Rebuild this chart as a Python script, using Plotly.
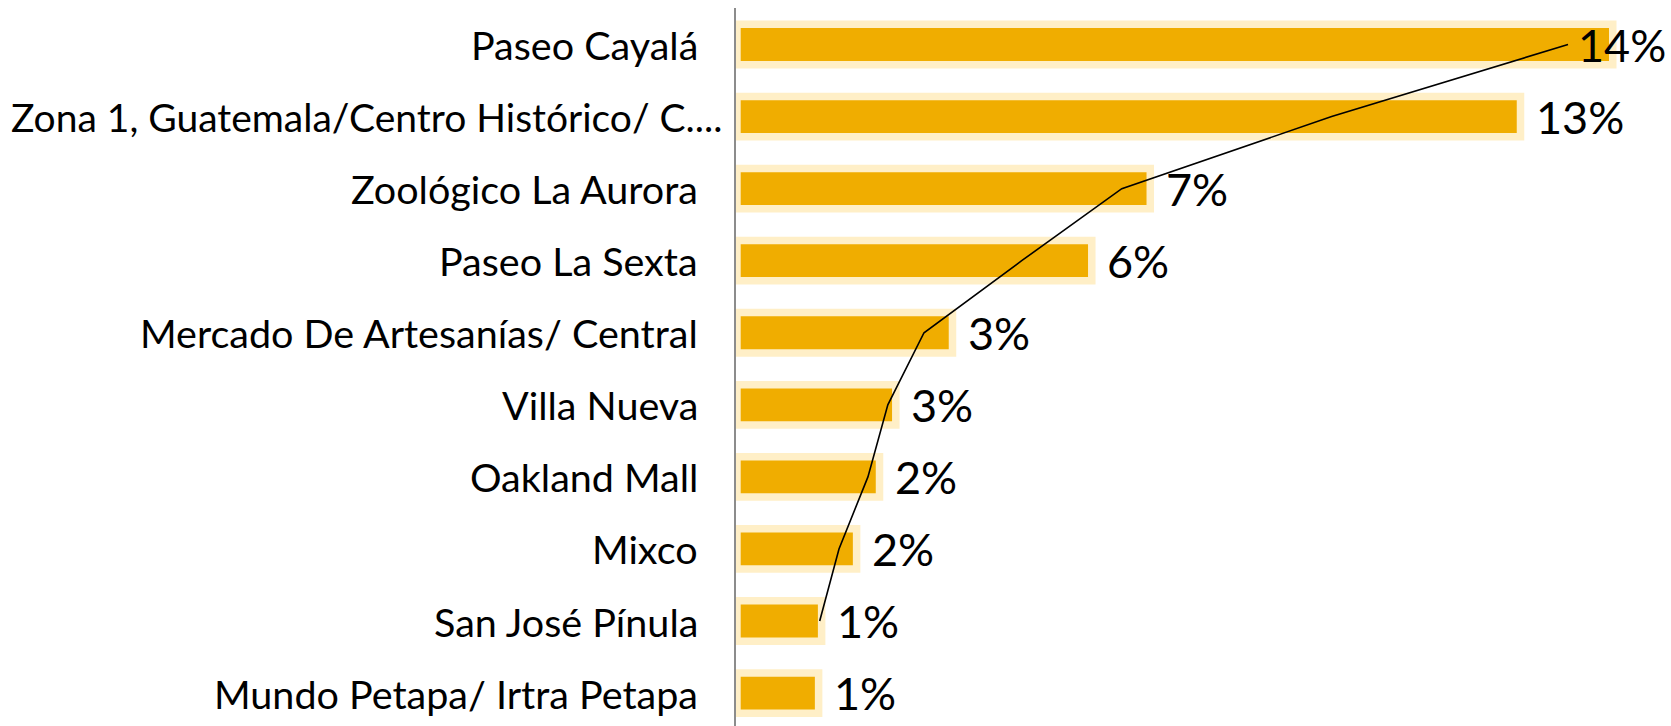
import plotly.graph_objects as go

categories = [
    "Paseo Cayalá",
    "Zona 1, Guatemala/Centro Histórico/ C....",
    "Zoológico La Aurora",
    "Paseo La Sexta",
    "Mercado De Artesanías/ Central",
    "Villa Nueva",
    "Oakland Mall",
    "Mixco",
    "San José Pínula",
    "Mundo Petapa/ Irtra Petapa",
]
values = [14.4, 12.87, 6.73, 5.76, 3.45, 2.51, 2.24, 1.86, 1.28, 1.23]
labels = ["14%", "13%", "7%", "6%", "3%", "3%", "2%", "2%", "1%", "1%"]
line_values = [13.72, 9.8, 6.32, 4.66, 3.04, 2.44, 2.11, 1.63, 1.31, None]

BAR = "rgb(240,173,0)"
HALO = "rgb(255,239,199)"
FONT = "Lato"

x_range = [-0.078, 15.428]
y_range = [9.457, -0.5065]
L_MARGIN = 736

fig = go.Figure()
fig.add_trace(go.Bar(
    x=values, y=categories, orientation="h", width=0.455,
    marker=dict(color=HALO, line=dict(color=HALO, width=15)),
    hoverinfo="skip", showlegend=False,
))
fig.add_trace(go.Bar(
    x=values, y=categories, orientation="h", width=0.455,
    marker=dict(color=BAR, line=dict(width=0)),
    showlegend=False,
))
fig.add_trace(go.Scatter(
    x=line_values, y=categories, mode="lines",
    line=dict(color="black", width=1.6), connectgaps=False,
    showlegend=False,
))

plot_w = 1671 - L_MARGIN
px_per_unit = plot_w / (x_range[1] - x_range[0])
annotations = []
# value labels
for v, lab, c in zip(values, labels, categories):
    right_px = (v - x_range[0]) * px_per_unit + 17 + 85
    if right_px > plot_w:
        annotations.append(dict(x=x_range[1], y=c, xref="x", yref="y", text=lab,
                                showarrow=False, xanchor="right", xshift=-3,
                                font=dict(family=FONT, size=45, color="black")))
    else:
        annotations.append(dict(x=v, y=c, xref="x", yref="y", text=lab,
                                showarrow=False, xanchor="left", xshift=17,
                                font=dict(family=FONT, size=45, color="black")))
# category labels (the long truncated one overflows toward the axis, as in the original)
for c in categories:
    if len(c) > 35:
        annotations.append(dict(x=0, y=c, xref="paper", yref="y", text=c,
                                showarrow=False, xanchor="left", xshift=9 - L_MARGIN,
                                font=dict(family=FONT, size=39, color="black")))
    else:
        annotations.append(dict(x=0, y=c, xref="paper", yref="y", text=c,
                                showarrow=False, xanchor="right", xshift=-36,
                                font=dict(family=FONT, size=39.5, color="black")))

fig.update_layout(
    width=1671, height=726,
    margin=dict(l=L_MARGIN, r=0, t=8, b=0, autoexpand=False),
    paper_bgcolor="white", plot_bgcolor="white",
    barmode="overlay",
    annotations=annotations,
    xaxis=dict(range=x_range, visible=False, showgrid=False, zeroline=False,
               automargin=False),
    yaxis=dict(range=y_range, type="category", categoryorder="array",
               categoryarray=categories, showgrid=False, zeroline=False,
               showline=True, linecolor="#8c8c8c", linewidth=2, ticks="",
               showticklabels=False, automargin=False),
    font=dict(family=FONT),
)
fig.write_html("out.html", config={"displayModeBar": False},
               post_script="document.body.style.margin='0';document.body.style.overflow='hidden';")
